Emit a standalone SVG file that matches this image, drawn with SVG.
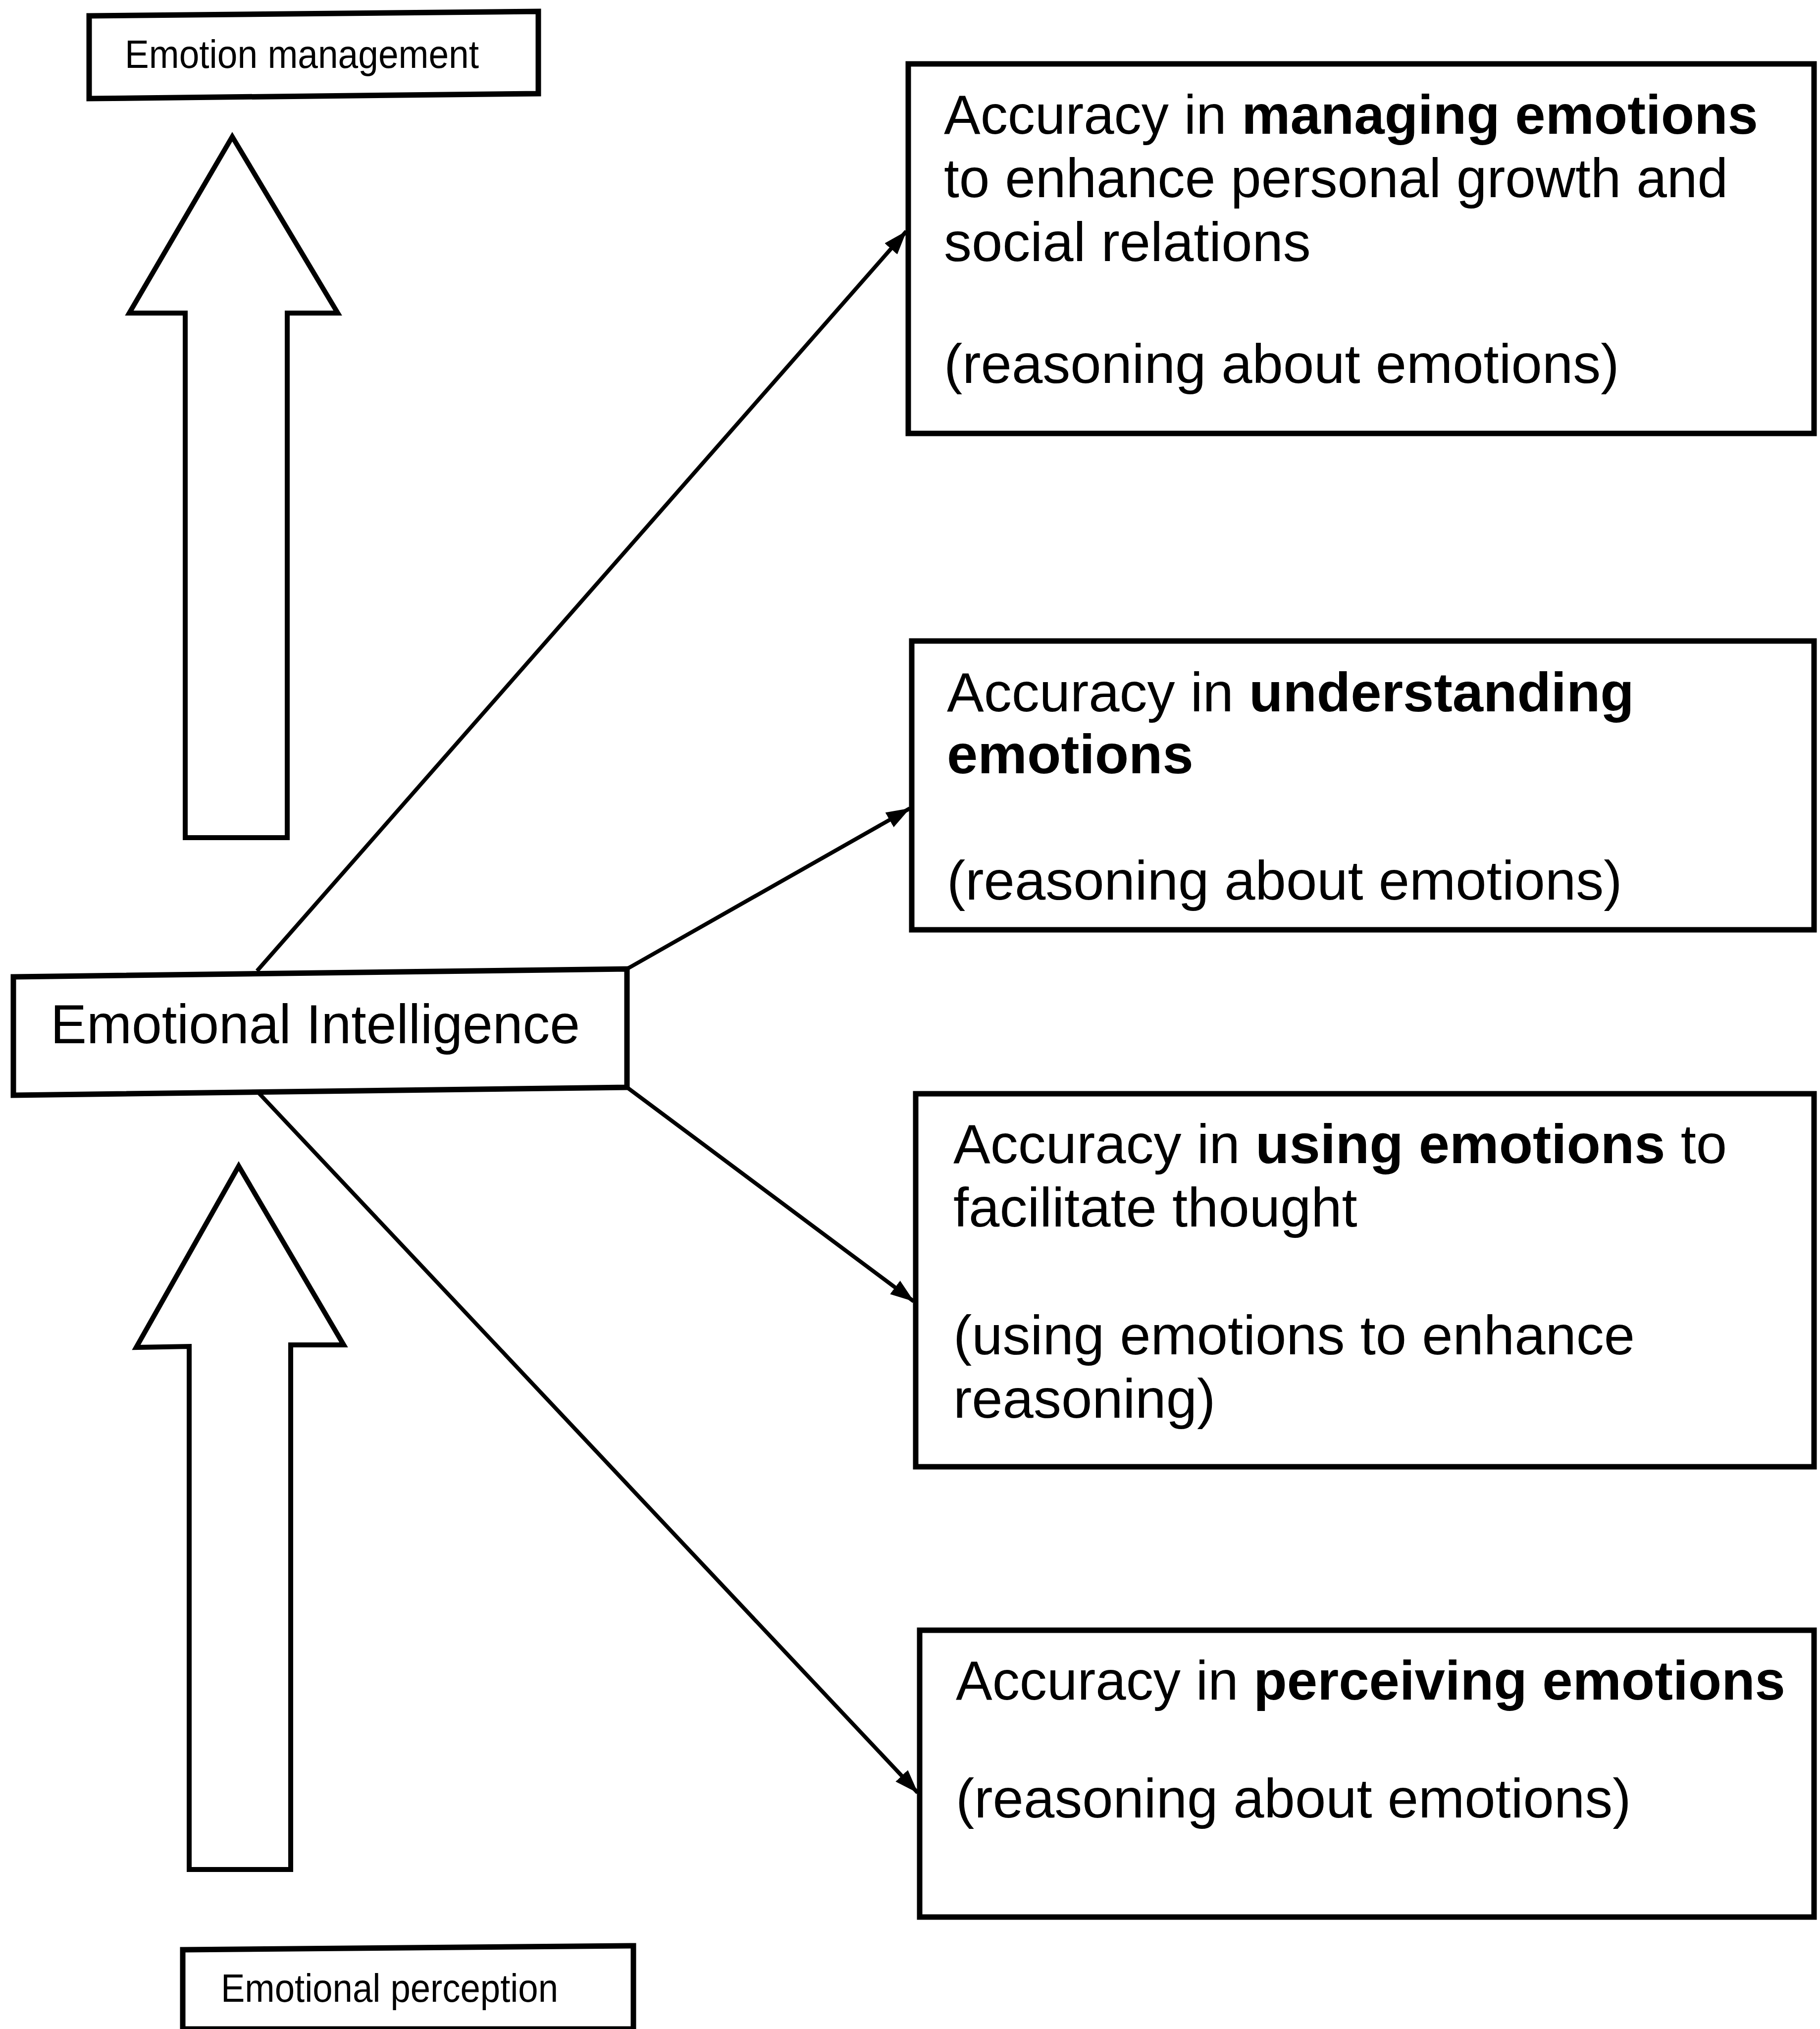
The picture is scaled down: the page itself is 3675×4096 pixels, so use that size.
<svg xmlns="http://www.w3.org/2000/svg" width="3675" height="4096" viewBox="0 0 3675 4096">
<style>
.box{fill:#fff;stroke:#000;stroke-width:11;stroke-linejoin:miter}
.blk{fill:#fff;stroke:#000;stroke-width:10;stroke-linejoin:miter}
.t{font-family:"Liberation Sans",Arial,Helvetica,sans-serif;fill:#000}
.big{font-size:112px}
.sm{font-size:80px}
.b{font-weight:bold}
.con{stroke:#000;stroke-width:8;fill:none}
</style>
<defs>
<marker id="ah" markerWidth="48" markerHeight="34" refX="47" refY="17" orient="auto" markerUnits="userSpaceOnUse" viewBox="0 0 48 34">
<path d="M0,0 L48,17 L0,34 Z" fill="#000"/>
</marker>
</defs>
<rect width="3675" height="4096" fill="#fff"/>

<g id="emotion-management">
<polygon class="box" points="180,32 1087,23 1087,189 180,199"/>
<text class="t sm" x="252" y="137" textLength="715" lengthAdjust="spacingAndGlyphs">Emotion management</text>
</g>

<g id="arrow-up-top">
<polygon class="blk" points="469,276 682,632 580,632 580,1691 374,1691 374,632 261,632"/>
</g>

<g id="arrow-up-bottom">
<polygon class="blk" points="482,2354 694,2715 587,2715 587,3774 382,3774 382,2718 275,2720"/>
</g>

<g id="emotional-intelligence">
<polygon class="box" points="27,1972 1266,1956 1266,2195 27,2211"/>
<text class="t big" x="102" y="2106" textLength="1069" lengthAdjust="spacingAndGlyphs">Emotional Intelligence</text>
</g>

<g id="managing">
<rect class="box" x="1834" y="129" width="1829" height="746"/>
<text class="t big" x="1906" y="270" textLength="1644" lengthAdjust="spacingAndGlyphs">Accuracy in <tspan class="b">managing emotions</tspan></text>
<text class="t big" x="1906" y="398" textLength="1583" lengthAdjust="spacingAndGlyphs">to enhance personal growth and</text>
<text class="t big" x="1906" y="527">social relations</text>
<text class="t big" x="1906" y="773">(reasoning about emotions)</text>
</g>

<g id="understanding">
<rect class="box" x="1841" y="1294" width="1822" height="583"/>
<text class="t big" x="1912" y="1436">Accuracy in <tspan class="b">understanding</tspan></text>
<text class="t big b" x="1912" y="1561">emotions</text>
<text class="t big" x="1912" y="1816">(reasoning about emotions)</text>
</g>

<g id="using">
<rect class="box" x="1849" y="2208" width="1814" height="753"/>
<text class="t big" x="1925" y="2348">Accuracy in <tspan class="b">using emotions</tspan> to</text>
<text class="t big" x="1925" y="2476">facilitate thought</text>
<text class="t big" x="1925" y="2734">(using emotions to enhance</text>
<text class="t big" x="1925" y="2862">reasoning)</text>
</g>

<g id="perceiving">
<rect class="box" x="1857" y="3291" width="1806" height="579"/>
<text class="t big" x="1930" y="3431" textLength="1675" lengthAdjust="spacingAndGlyphs">Accuracy in <tspan class="b">perceiving emotions</tspan></text>
<text class="t big" x="1930" y="3669">(reasoning about emotions)</text>
</g>

<g id="emotional-perception">
<polygon class="box" points="369,3936 1279,3928 1279,4096 369,4096"/>
<text class="t sm" x="446" y="4041" textLength="681" lengthAdjust="spacingAndGlyphs">Emotional perception</text>
</g>

<g id="connectors">
<line class="con" x1="519" y1="1960" x2="1830" y2="467" marker-end="url(#ah)"/>
<line class="con" x1="1266" y1="1956" x2="1837" y2="1632" marker-end="url(#ah)"/>
<line class="con" x1="1266" y1="2195" x2="1845" y2="2627" marker-end="url(#ah)"/>
<line class="con" x1="523" y1="2207" x2="1853" y2="3619" marker-end="url(#ah)"/>
</g>
</svg>
